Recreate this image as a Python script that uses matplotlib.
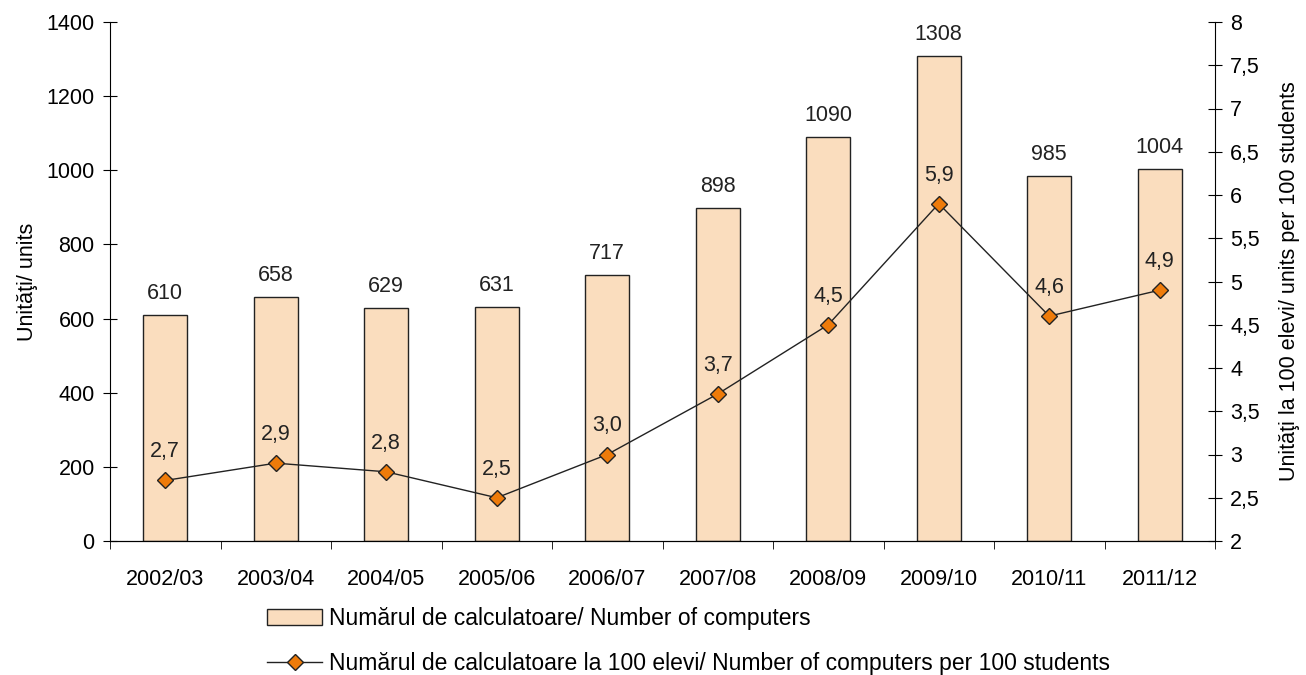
import numpy as np
import matplotlib.pyplot as plt
from matplotlib.lines import Line2D
from matplotlib.patches import Patch

plt.rcParams['font.family'] = ['Liberation Sans', 'DejaVu Sans']

years = ['2002/03', '2003/04', '2004/05', '2005/06', '2006/07',
         '2007/08', '2008/09', '2009/10', '2010/11', '2011/12']
computers = [610, 658, 629, 631, 717, 898, 1090, 1308, 985, 1004]
per100 = [2.7, 2.9, 2.8, 2.5, 3.0, 3.7, 4.5, 5.9, 4.6, 4.9]
per100_labels = ['2,7', '2,9', '2,8', '2,5', '3,0', '3,7', '4,5', '5,9', '4,6', '4,9']

bar_color = '#FADDBE'
marker_color = '#EE7B0A'
fs = 15.5

fig = plt.figure(figsize=(13.06, 6.75), dpi=100)
ax = fig.add_axes([110/1306, 1-541/675, (1215-110)/1306, (541-22)/675])
x = np.arange(len(years))

# bars: number of computers
ax.bar(x, computers, width=0.4, color=bar_color, edgecolor='#222222', linewidth=1.0, zorder=2)
for xi, v in zip(x, computers):
    ax.annotate(str(v), (xi, v), xytext=(0, 8), textcoords='offset points',
                ha='center', va='bottom', fontsize=fs, color='#222222')

ax.set_xlim(-0.5, len(years) - 0.5)
ax.set_ylim(0, 1400)
ax.set_yticks(range(0, 1401, 200))
ax.set_xticks(x)
ax.set_xticklabels(years)
ax.set_xticks(np.arange(-0.5, len(years)), minor=True)
ax.tick_params(axis='x', which='major', length=0, pad=20, labelsize=fs)
ax.tick_params(axis='x', which='minor', length=6, direction='out')
ax.tick_params(axis='y', direction='inout', length=10, labelsize=fs, pad=6)
ax.spines['top'].set_visible(False)
ax.spines['right'].set_visible(False)
ax.set_ylabel('Unităţi/ units', fontsize=fs, labelpad=6)

# line: computers per 100 students
ax2 = ax.twinx()
ax2.plot(x, per100, color='#222222', linewidth=1.0, marker='D', markersize=8,
         markerfacecolor=marker_color, markeredgecolor='#222222', markeredgewidth=1.0, zorder=3)
for xi, v, lab in zip(x, per100, per100_labels):
    ax2.annotate(lab, (xi, v), xytext=(0, 13), textcoords='offset points',
                 ha='center', va='bottom', fontsize=fs, color='#222222')
ax2.set_ylim(2, 8)
ax2.set_yticks(np.arange(2, 8.01, 0.5))
ax2.set_yticklabels([('%g' % t).replace('.', ',') for t in np.arange(2, 8.01, 0.5)])
ax2.tick_params(axis='y', direction='inout', length=10, labelsize=fs, pad=6)
ax2.spines['top'].set_visible(False)
ax2.spines['left'].set_visible(False)
ax2.set_ylabel('Unităţi la 100 elevi/ units per 100 students', fontsize=fs, labelpad=14)

handles = [Patch(facecolor=bar_color, edgecolor='#222222', linewidth=1.0),
           Line2D([0], [0], color='#222222', linewidth=1.0, marker='D', markersize=8,
                  markerfacecolor=marker_color, markeredgecolor='#222222')]
labels = ['Numărul de calculatoare/ Number of computers',
          'Numărul de calculatoare la 100 elevi/ Number of computers per 100 students']
fig.legend(handles, labels, loc='upper left', bbox_to_anchor=(249/1306, 1-589/675),
           frameon=False, fontsize=16.5, labelspacing=0.95, handlelength=2.4,
           handletextpad=0.3, borderpad=0.3)

fig.savefig('out.png', dpi=100)
